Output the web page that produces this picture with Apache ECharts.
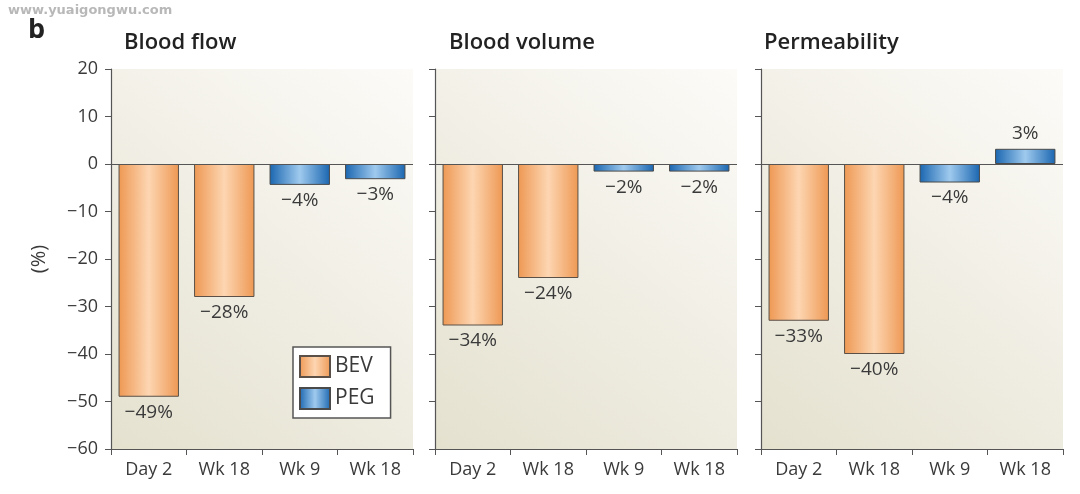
<!DOCTYPE html>
<html>
<head>
<meta charset="utf-8">
<script src="https://cdn.jsdelivr.net/npm/echarts@6/dist/echarts.min.js"></script>
<style>
html,body{margin:0;padding:0;background:#fff;}
#chart{width:1080px;height:494px;}
</style>
</head>
<body>
<div id="chart"></div>
<script>
const categories = ["Day 2", "Wk 18", "Wk 9", "Wk 18"];
const panelTitles = ["Blood flow", "Blood volume", "Permeability"];
const bloodFlow = [-49, -28, -4.4, -3.2];
const bloodVolume = [-34, -24, -1.6, -1.6];
const permeability = [-33, -40, -3.9, 3.2];
const bevIndex = [0, 1];
const pegIndex = [2, 3];
const yTicks = { min: -60, max: 20, interval: 10 };

const panels = [bloodFlow, bloodVolume, permeability];
const gridLefts = [111, 435, 761];
const titleLefts = [124, 449, 764];
const gridWidth = 302;
const FONT = '"Open Sans", "Noto Sans", sans-serif';

const chart = echarts.init(document.getElementById('chart'));

function fmtMinus(v) {
  return (v < 0 ? '\u2212' + Math.abs(v) : '' + v);
}

const orangeGrad = new echarts.graphic.LinearGradient(0, 0, 1, 0, [
  { offset: 0, color: '#ee9853' },
  { offset: 0.5, color: '#fdd6b2' },
  { offset: 1, color: '#ee9853' }
]);
const blueGrad = new echarts.graphic.LinearGradient(0, 0, 1, 0, [
  { offset: 0, color: '#1a66b0' },
  { offset: 0.5, color: '#9fcaee' },
  { offset: 1, color: '#1a66b0' }
]);
const bgGrad = () => new echarts.graphic.LinearGradient(0, 1, 1, 0, [
  { offset: 0, color: '#e4e1cf' },
  { offset: 1, color: '#fcfbf8' }
]);

const grids = [], xAxes = [], yAxes = [], series = [], titles = [];

panels.forEach((vals, p) => {
  grids.push({
    left: gridLefts[p], width: gridWidth, top: 69, bottom: 45,
    show: true, backgroundColor: bgGrad(), borderWidth: 0
  });
  xAxes.push({
    type: 'category', gridIndex: p, data: categories,
    axisLine: { show: true, onZero: false, lineStyle: { color: '#555', width: 1.2 } },
    axisTick: { show: true, length: 6, lineStyle: { color: '#555' } },
    axisLabel: { color: '#3a3a3a', fontSize: 18, fontFamily: FONT, margin: 12 },
    splitLine: { show: false }
  });
  yAxes.push({
    type: 'value', gridIndex: p, min: yTicks.min, max: yTicks.max, interval: yTicks.interval,
    axisLine: { show: true, lineStyle: { color: '#555', width: 1.2 } },
    axisTick: { show: true, length: 6, lineStyle: { color: '#555' } },
    axisLabel: { show: p === 0, color: '#3a3a3a', fontSize: 18, fontFamily: FONT, margin: 13, formatter: fmtMinus },
    splitLine: { show: false },
    name: p === 0 ? '(%)' : '',
    nameLocation: 'middle', nameRotate: 90, nameGap: 62,
    nameTextStyle: { color: '#3a3a3a', fontSize: 20, fontFamily: FONT }
  });
  const mk = (idxs) => categories.map((c, i) => {
    if (idxs.indexOf(i) < 0) return '-';
    const v = vals[i];
    return { value: v, label: { position: v >= 0 ? 'top' : 'bottom' } };
  });
  const labelCfg = {
    show: true, distance: 6, color: '#3a3a3a', fontSize: 19, fontFamily: FONT,
    formatter: (prm) => fmtMinus(Math.round(prm.value)) + '%'
  };
  series.push({
    name: 'BEV', type: 'bar', xAxisIndex: p, yAxisIndex: p, stack: 's' + p,
    barWidth: '80%', data: mk(bevIndex),
    itemStyle: { color: orangeGrad, borderColor: '#5a5048', borderWidth: 1 },
    label: labelCfg,
    markLine: {
      silent: true, symbol: 'none', data: [{ yAxis: 0 }],
      label: { show: false }, lineStyle: { color: '#555', type: 'solid', width: 1.2 }
    }
  });
  series.push({
    name: 'PEG', type: 'bar', xAxisIndex: p, yAxisIndex: p, stack: 's' + p,
    barWidth: '80%', data: mk(pegIndex),
    itemStyle: { color: blueGrad, borderColor: '#4a4a4a', borderWidth: 1 },
    label: labelCfg
  });
  titles.push({
    text: panelTitles[p], left: titleLefts[p], top: 32, padding: 0,
    textStyle: { fontSize: 22, fontWeight: 600, color: '#222', fontFamily: FONT }
  });
});

titles.push({ text: 'b', left: 28, top: 17, padding: 0, textStyle: { fontSize: 27, fontWeight: 'bold', color: '#222', fontFamily: FONT } });
titles.push({ text: 'www.yuaigongwu.com', left: 8, top: 4, padding: 0, textStyle: { fontSize: 13, fontWeight: 'bold', color: '#b8b8b8', fontFamily: '"DejaVu Sans", sans-serif' } });

chart.setOption({
  animation: false,
  title: titles,
  grid: grids,
  xAxis: xAxes,
  yAxis: yAxes,
  legend: {
    data: ['BEV', 'PEG'], orient: 'vertical', left: 293, top: 347,
    icon: 'rect', itemWidth: 30, itemHeight: 21, itemGap: 9,
    padding: [8, 16, 8, 6],
    borderColor: '#555', borderWidth: 1.5, backgroundColor: '#fff',
    textStyle: { color: '#3a3a3a', fontSize: 21, fontFamily: FONT }
  },
  series: series
});
</script>
</body>
</html>
